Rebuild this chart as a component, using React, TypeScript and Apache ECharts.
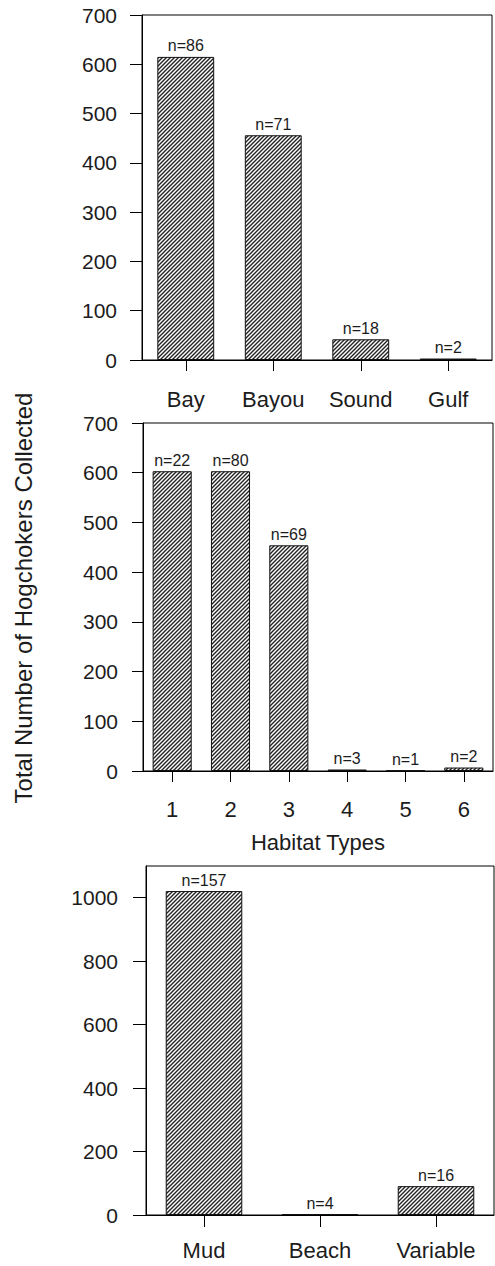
import React, { useEffect, useRef } from "react";
import * as echarts from "echarts";

// ---------- data ----------
const REGION_CATS = ["Bay", "Bayou", "Sound", "Gulf"];
const REGION_VALUES = [615, 456, 42, 3];
const REGION_N = [86, 71, 18, 2];

const HABITAT_CATS = ["1", "2", "3", "4", "5", "6"];
const HABITAT_VALUES = [603, 603, 454, 3, 1, 7];
const HABITAT_N = [22, 80, 69, 3, 1, 2];

const SUBSTRATE_CATS = ["Mud", "Beach", "Variable"];
const SUBSTRATE_VALUES = [1021, 3, 91];
const SUBSTRATE_N = [157, 4, 16];

const Y_TICKS_TOP = [0, 100, 200, 300, 400, 500, 600, 700];
const Y_TICKS_BOTTOM = [0, 200, 400, 600, 800, 1000];

const Y_TITLE = "Total Number of Hogchokers Collected";
const X_TITLE_MIDDLE = "Habitat Types";

// ---------- style ----------
const FONT = "Liberation Sans, Arial, Helvetica, sans-serif";
const INK = "#1c1c1c";

const tile =
  "<svg xmlns='http://www.w3.org/2000/svg' width='4' height='4'>" +
  "<path d='M-1,1 L1,-1 M0,4 L4,0 M3,5 L5,3' stroke='#222' stroke-width='1.4' fill='none'/></svg>";
const hatch = {
  image: "data:image/svg+xml;charset=utf-8," + encodeURIComponent(tile),
  repeat: "repeat",
  imageWidth: 4,
  imageHeight: 4,
};

const grids = [
  { left: 142, right: 3, top: 15, height: 345 },
  { left: 143, right: 2, top: 423, height: 348 },
  { left: 146, right: 1, top: 866, height: 349 },
];

function xAxisFor(gridIndex: number, data: string[], margin: number, tickLen: number, extra: any = {}) {
  return {
    gridIndex,
    type: "category",
    data,
    axisLine: { show: true, lineStyle: { color: "#000", width: 1 } },
    axisTick: { show: true, alignWithLabel: true, length: tickLen, lineStyle: { color: "#000", width: 1 } },
    axisLabel: { fontSize: 22, color: INK, margin, fontFamily: FONT, interval: 0 },
    splitLine: { show: false },
    ...extra,
  };
}

function yAxisFor(gridIndex: number, max: number, interval: number, ticks: number[], margin: number, tickLen: number) {
  return {
    gridIndex,
    type: "value",
    min: 0,
    max,
    interval,
    axisLine: { show: true, lineStyle: { color: "#000", width: 1 } },
    axisTick: { show: true, length: tickLen, customValues: ticks, lineStyle: { color: "#000", width: 1 } },
    axisLabel: {
      fontSize: 21,
      color: INK,
      margin,
      fontFamily: FONT,
      customValues: ticks,
      formatter: (v: number) => String(v),
    },
    splitLine: { show: false },
  };
}

function barSeries(idx: number, values: number[], ns: number[], width: string) {
  return {
    type: "bar",
    xAxisIndex: idx,
    yAxisIndex: idx,
    data: values,
    barWidth: width,
    itemStyle: { color: hatch, borderColor: "#111", borderWidth: 1 },
    label: {
      show: true,
      position: "top",
      distance: 3,
      fontSize: 16,
      color: INK,
      fontFamily: FONT,
      formatter: (p: any) => "n=" + ns[p.dataIndex],
    },
  };
}

export default function App() {
  const ref = useRef<HTMLDivElement>(null);
  useEffect(() => {
    if (!ref.current) return;
    const chart = echarts.init(ref.current, null, { renderer: "svg" });
    chart.setOption({
      animation: false,
      backgroundColor: "#fff",
      grid: grids.map((g) => ({ ...g, show: true, borderColor: "#000", borderWidth: 1, backgroundColor: "transparent" })),
      xAxis: [
        xAxisFor(0, REGION_CATS, 28, 11),
        xAxisFor(1, HABITAT_CATS, 27, 11, {
          name: X_TITLE_MIDDLE,
          nameLocation: "middle",
          nameGap: 60,
          nameTextStyle: { fontSize: 22, color: INK, fontFamily: FONT },
        }),
        xAxisFor(2, SUBSTRATE_CATS, 24, 12),
      ],
      yAxis: [
        yAxisFor(0, 700, 100, Y_TICKS_TOP, 25, 12),
        yAxisFor(1, 700, 100, Y_TICKS_TOP, 25, 11),
        yAxisFor(2, 1100, 100, Y_TICKS_BOTTOM, 28, 13),
      ],
      series: [
        barSeries(0, REGION_VALUES, REGION_N, "65%"),
        barSeries(1, HABITAT_VALUES, HABITAT_N, "67%"),
        barSeries(2, SUBSTRATE_VALUES, SUBSTRATE_N, "66%"),
      ],
      graphic: [
        {
          type: "text",
          x: 23,
          y: 598,
          rotation: Math.PI / 2,
          style: {
            text: Y_TITLE,
            fontSize: 24,
            fill: INK,
            fontFamily: FONT,
            align: "center",
            verticalAlign: "middle",
          },
        },
      ],
    });
    return () => chart.dispose();
  }, []);
  return (
    <div
      ref={ref}
      style={{ position: "absolute", left: 0, top: 0, width: 495, height: 1266 }}
    />
  );
}
